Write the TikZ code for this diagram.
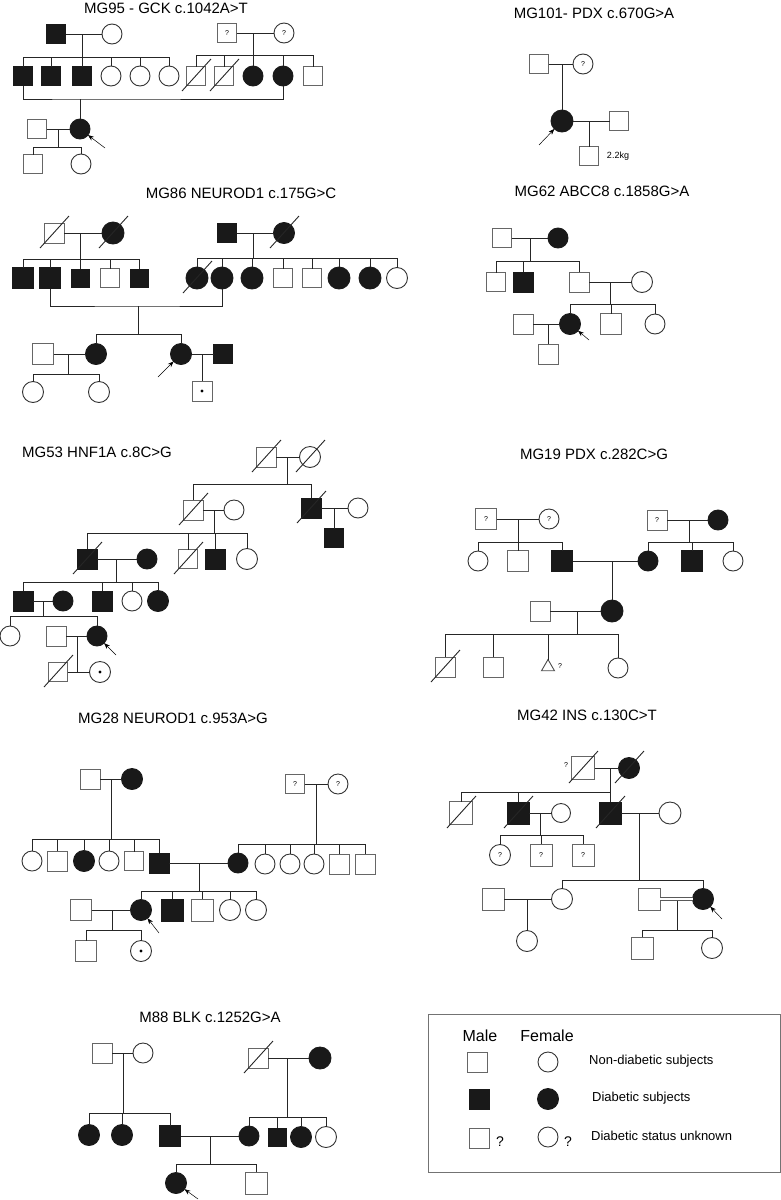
\documentclass[tikz,border=0pt]{standalone}
\usepackage{fontspec}
\setmainfont{Liberation Sans}
\usetikzlibrary{arrows.meta,shapes.geometric}
\newcommand\sibship[5]{%
  \draw[ln] (#1) -- (#1 |- #2);
  \draw[ln] (#3.north |- #2) -- (#4.north |- #2);
  \foreach \kid in {#5}{\draw[ln] (\kid.north) -- (\kid.north |- #2);}
}
\newcommand\deadmark[1]{\draw[ln] ([shift={(-14,15)}]#1.center) -- ([shift={(15,-17)}]#1.center);}
\newcommand\dotmark[1]{\fill[black] (#1.center) circle (1.7);}
\begin{document}
\begin{tikzpicture}[x=1pt,y=-1pt,
  ln/.style={line width=0.9pt, draw=black!85},
  sym/.style={line width=0.9pt, inner sep=0pt, outer sep=0pt, font=\fontsize{7}{7}\selectfont},
  ma/.style={sym, rectangle, draw=black!60, fill=white, minimum size=19pt},
  maD/.style={sym, rectangle, draw=black!90, fill=black!90, minimum size=19pt},
  fe/.style={sym, circle, draw=black!80, fill=white, minimum size=20pt},
  feD/.style={sym, circle, draw=black!90, fill=black!90, minimum size=20pt},
  tri/.style={sym, regular polygon, regular polygon sides=3, draw=black!70, fill=white, minimum size=15pt},
  ttl/.style={font=\fontsize{15}{17}\selectfont, inner sep=0pt},
  txt/.style={font=\fontsize{13}{15}\selectfont, inner sep=0pt, anchor=west},
  qm/.style={font=\fontsize{7}{8}\selectfont, inner sep=0pt},
  arr/.style={line width=0.5pt, draw=black, -{Stealth[length=6pt,width=4.5pt]}},
]
\useasboundingbox (0,0) rectangle (781,1200);

%================ MG95
\node[ttl] (t1) at (166,8) {MG95 - GCK c.1042A>T};
\node[maD] (a1) at (56,34) {};
\node[fe] (a2) at (112,34) {};
\node[ma] (a3) at (227,33) {?};
\node[fe] (a4) at (284,33) {?};
\node[maD] (a5) at (23,76) {};
\node[maD] (a6) at (51,76) {};
\node[maD] (a7) at (82,76) {};
\node[fe] (a8) at (111,76) {};
\node[fe] (a9) at (140,76) {};
\node[fe] (a10) at (169,76) {};
\node[ma] (a11) at (196,76) {};
\node[ma] (a12) at (224,76) {};
\node[feD] (a13) at (253,76) {};
\node[feD] (a14) at (283,76) {};
\node[ma] (a15) at (313,76) {};
\node[feD] (a16) at (80,129) {};
\node[ma] (a17) at (37,129) {};
\node[ma] (a18) at (33,164) {};
\node[fe] (a19) at (81,164) {};
\deadmark{a11}\deadmark{a12}
\draw[ln] (a1) -- (a2);
\coordinate (pa1) at (82,34); \coordinate (ba1) at (0,57);
\sibship{pa1}{ba1}{a5}{a10}{a5,a6,a7,a8,a9,a10}
\draw[ln] (a3) -- (a4);
\coordinate (pa2) at (253,33); \coordinate (ba2) at (0,55);
\sibship{pa2}{ba2}{a11}{a15}{a11,a12,a13,a14,a15}
\coordinate (ua) at (80,99);
\draw[ln] (a5.south) |- (ua) -| (a14.south);
\draw[ln] (ua) -- (a16);
\draw[ln] (a17) -- (a16);
\coordinate (pa3) at (58,129); \coordinate (ba3) at (0,147);
\sibship{pa3}{ba3}{a18}{a19}{a18,a19}
\coordinate (ra) at (105,148); \draw[arr] (ra) -- (a16);

%================ MG101
\node[ttl] (t2) at (594,13) {MG101- PDX c.670G>A};
\node[ma] (b1) at (539,64) {};
\node[fe] (b2) at (583,64) {?};
\node[feD, minimum size=22pt] (b3) at (562,121) {};
\node[ma] (b4) at (619,121) {};
\node[ma] (b5) at (589,156) {};
\node[font=\fontsize{9}{10}\selectfont, inner sep=0pt] (b6) at (618,156) {2.2kg};
\draw[ln] (b1) -- (b2);
\coordinate (pb1) at (562,64); \draw[ln] (pb1) -- (b3);
\draw[ln] (b3) -- (b4);
\coordinate (pb2) at (589,121); \draw[ln] (pb2) -- (b5);
\coordinate (rb) at (539,145); \draw[arr] (rb) -- (b3);

%================ MG86
\node[ttl] (t3) at (241,193) {MG86 NEUROD1 c.175G>C};
\node[ma, minimum size=20pt] (c1) at (54,233) {};
\node[feD, minimum size=22pt] (c2) at (113,233) {};
\node[maD, minimum size=21pt] (c3) at (23,278) {};
\node[maD, minimum size=21pt] (c4) at (50,278) {};
\node[maD, minimum size=18pt] (c5) at (80,278) {};
\node[ma] (c6) at (110,278) {};
\node[maD, minimum size=18pt] (c7) at (139,278) {};
\node[maD] (c8) at (227,233) {};
\node[feD, minimum size=21pt] (c9) at (284,233) {};
\node[feD, minimum size=22pt] (c10) at (197,278) {};
\node[feD, minimum size=22pt] (c11) at (222,278) {};
\node[feD, minimum size=22pt] (c12) at (252,278) {};
\node[ma] (c13) at (283,278) {};
\node[ma] (c14) at (312,278) {};
\node[feD, minimum size=22pt] (c15) at (339,278) {};
\node[feD, minimum size=22pt] (c16) at (370,278) {};
\node[fe, minimum size=21pt] (c17) at (397,278) {};
\node[feD, minimum size=21pt] (c18) at (96,354) {};
\node[feD, minimum size=21pt] (c19) at (181,354) {};
\node[ma, minimum size=21pt] (c20) at (43,354) {};
\node[fe, minimum size=21pt] (c21) at (33,392) {};
\node[fe, minimum size=21pt] (c22) at (99,392) {};
\node[maD] (c23) at (223,354) {};
\node[ma, minimum size=20pt] (c24) at (202,391) {};
\dotmark{c24}
\deadmark{c1}\deadmark{c2}\deadmark{c9}\deadmark{c10}
\draw[ln] (c1) -- (c2);
\coordinate (pc1) at (80,233); \coordinate (bc1) at (0,259);
\sibship{pc1}{bc1}{c3}{c7}{c3,c4,c5,c6,c7}
\draw[ln] (c8) -- (c9);
\coordinate (pc2) at (253,233); \coordinate (bc2) at (0,258);
\sibship{pc2}{bc2}{c10}{c17}{c10,c11,c12,c13,c14,c15,c16,c17}
\coordinate (uc) at (138,306);
\draw[ln] (c4.south) |- (uc) -| (c11.south);
\coordinate (bc3) at (0,334);
\sibship{uc}{bc3}{c18}{c19}{c18,c19}
\draw[ln] (c20) -- (c18);
\coordinate (pc3) at (68,354); \coordinate (bc4) at (0,374);
\sibship{pc3}{bc4}{c21}{c22}{c21,c22}
\draw[ln] (c19) -- (c23);
\coordinate (pc4) at (202,354); \draw[ln] (pc4) -- (c24);
\coordinate (rc) at (158,377); \draw[arr] (rc) -- (c19);

%================ MG62
\node[ttl] (t4) at (602,191) {MG62 ABCC8 c.1858G>A};
\node[ma] (d1) at (502,238) {};
\node[feD] (d2) at (558,238) {};
\node[ma] (d3) at (496,282) {};
\node[maD, minimum size=20pt] (d4) at (523,282) {};
\node[ma, minimum size=20pt] (d5) at (579,282) {};
\node[fe, minimum size=21pt] (d6) at (642,282) {};
\node[feD, minimum size=21pt] (d7) at (570,324) {};
\node[ma, minimum size=21pt] (d8) at (611,324) {};
\node[fe] (d9) at (655,324) {};
\node[ma, minimum size=20pt] (d10) at (523,324) {};
\node[ma, minimum size=20pt] (d11) at (548,354) {};
\draw[ln] (d1) -- (d2);
\coordinate (pd1) at (530,238); \coordinate (bd1) at (0,261);
\sibship{pd1}{bd1}{d3}{d5}{d3,d4,d5}
\draw[ln] (d5) -- (d6);
\coordinate (pd2) at (610,282); \coordinate (bd2) at (0,304);
\sibship{pd2}{bd2}{d7}{d9}{d7,d8,d9}
\draw[ln] (d10) -- (d7);
\coordinate (pd3) at (548,324); \draw[ln] (pd3) -- (d11);
\coordinate (rd) at (589,340); \draw[arr] (rd) -- (d7);

%================ MG53
\node[ttl, anchor=west] (t5) at (22,452) {MG53 HNF1A c.8C>G};
\node[ma, minimum size=20pt] (e1) at (266,457) {};
\node[fe, minimum size=21pt] (e2) at (310,457) {};
\node[ma, minimum size=20pt] (e3) at (193,510) {};
\node[maD, minimum size=20pt] (e4) at (311,508) {};
\node[fe] (e5) at (234,510) {};
\node[fe] (e6) at (358,508) {};
\node[maD] (e7) at (334,538) {};
\node[maD, minimum size=20pt] (e8) at (87,559) {};
\node[feD, minimum size=20pt] (e9) at (147,559) {};
\node[ma] (e10) at (188,559) {};
\node[maD, minimum size=20pt] (e11) at (215,559) {};
\node[fe, minimum size=21pt] (e12) at (247,559) {};
\node[maD, minimum size=20pt] (e13) at (23,601) {};
\node[feD, minimum size=20pt] (e14) at (63,601) {};
\node[maD, minimum size=20pt] (e15) at (102,601) {};
\node[fe] (e16) at (132,601) {};
\node[feD, minimum size=21pt] (e17) at (158,601) {};
\node[fe] (e18) at (10,636) {};
\node[feD] (e19) at (97,636) {};
\node[ma, minimum size=20pt] (e20) at (56,636) {};
\node[ma] (e21) at (58,672) {};
\node[fe, minimum size=21pt] (e22) at (100,672) {};
\dotmark{e22}
\deadmark{e1}\deadmark{e2}\deadmark{e3}\deadmark{e4}\deadmark{e8}\deadmark{e10}\deadmark{e21}
\draw[ln] (e1) -- (e2);
\coordinate (pe1) at (287,457); \coordinate (be1) at (0,484);
\sibship{pe1}{be1}{e3}{e4}{e3,e4}
\draw[ln] (e3) -- (e5);
\coordinate (pe2) at (214,510); \coordinate (be2) at (0,533);
\sibship{pe2}{be2}{e8}{e12}{e8,e10,e11,e12}
\draw[ln] (e4) -- (e6);
\coordinate (pe3) at (334,508); \draw[ln] (pe3) -- (e7);
\draw[ln] (e8) -- (e9);
\coordinate (pe4) at (116,559); \coordinate (be4) at (0,582);
\sibship{pe4}{be4}{e13}{e17}{e13,e15,e16,e17}
\draw[ln] (e13) -- (e14);
\coordinate (pe5) at (43,601); \coordinate (be5) at (0,616);
\sibship{pe5}{be5}{e18}{e19}{e18,e19}
\draw[ln] (e20) -- (e19);
\coordinate (pe6) at (77,636); \coordinate (qe) at (77,672);
\draw[ln] (pe6) -- (qe);
\draw[ln] (e21) -- (e22);
\coordinate (re) at (116,655); \draw[arr] (re) -- (e19);

%================ MG19
\node[ttl] (t6) at (594,454) {MG19 PDX c.282C>G};
\node[ma, minimum size=21pt] (f1) at (486,519) {?};
\node[fe] (f2) at (549,519) {?};
\node[fe] (f3) at (478,561) {};
\node[ma, minimum size=21pt] (f4) at (518,561) {};
\node[maD, minimum size=21pt] (f5) at (562,561) {};
\node[ma, minimum size=20pt] (f6) at (657,520) {?};
\node[feD] (f7) at (718,520) {};
\node[feD] (f8) at (648,561) {};
\node[maD, minimum size=21pt] (f9) at (692,561) {};
\node[fe] (f10) at (733,561) {};
\node[feD, minimum size=22pt] (f11) at (612,611) {};
\node[ma, minimum size=20pt] (f12) at (540,611) {};
\node[ma, minimum size=20pt] (f13) at (445,667) {};
\node[ma, minimum size=20pt] (f14) at (493,667) {};
\node[tri] (f15) at (548,667) {};
\node[qm] (f17) at (560,666) {?};
\node[fe] (f16) at (618,668) {};
\deadmark{f13}
\draw[ln] (f1) -- (f2);
\coordinate (pf1) at (518,519); \coordinate (bf1) at (0,542);
\sibship{pf1}{bf1}{f3}{f5}{f3,f4,f5}
\draw[ln] (f6) -- (f7);
\coordinate (pf2) at (689,520); \coordinate (bf2) at (0,542);
\sibship{pf2}{bf2}{f8}{f10}{f8,f9,f10}
\draw[ln] (f5) -- (f8);
\coordinate (pf3) at (612,561); \draw[ln] (pf3) -- (f11);
\draw[ln] (f12) -- (f11);
\coordinate (pf4) at (577,611); \coordinate (bf4) at (0,634);
\sibship{pf4}{bf4}{f13}{f16}{f13,f14,f15,f16}

%================ MG28
\node[ttl] (t7) at (173,718) {MG28 NEUROD1 c.953A>G};
\node[ma, minimum size=20pt] (g1) at (90,779) {};
\node[feD, minimum size=21pt] (g2) at (132,779) {};
\node[fe] (g3) at (32,861) {};
\node[ma, minimum size=20pt] (g4) at (57,861) {};
\node[feD, minimum size=21pt] (g5) at (84,861) {};
\node[fe] (g6) at (109,861) {};
\node[ma] (g7) at (134,861) {};
\node[maD, minimum size=20pt] (g8) at (159,863) {};
\node[ma] (g9) at (295,784) {?};
\node[fe] (g10) at (338,784) {?};
\node[feD, minimum size=20pt] (g11) at (238,863) {};
\node[fe] (g12) at (265,864) {};
\node[fe] (g13) at (290,864) {};
\node[fe] (g14) at (314,864) {};
\node[ma, minimum size=20pt] (g15) at (339,864) {};
\node[ma, minimum size=20pt] (g16) at (365,864) {};
\node[feD, minimum size=21pt] (g17) at (141,910) {};
\node[maD, minimum size=22pt] (g18) at (172,910) {};
\node[ma, minimum size=22pt] (g19) at (202,910) {};
\node[fe, minimum size=21pt] (g20) at (230,910) {};
\node[fe, minimum size=21pt] (g21) at (256,910) {};
\node[ma, minimum size=21pt] (g22) at (81,910) {};
\node[ma, minimum size=21pt] (g23) at (86,951) {};
\node[fe, minimum size=21pt] (g24) at (141,951) {};
\dotmark{g24}
\draw[ln] (g1) -- (g2);
\coordinate (pg1) at (111,779); \coordinate (bg1) at (0,839);
\sibship{pg1}{bg1}{g3}{g8}{g3,g4,g5,g6,g7,g8}
\draw[ln] (g9) -- (g10);
\coordinate (pg2) at (316,784); \coordinate (bg2) at (0,844);
\sibship{pg2}{bg2}{g11}{g16}{g11,g12,g13,g14,g15,g16}
\draw[ln] (g8) -- (g11);
\coordinate (pg3) at (199,863); \coordinate (bg3) at (0,891);
\sibship{pg3}{bg3}{g17}{g21}{g17,g18,g19,g20,g21}
\draw[ln] (g22) -- (g17);
\coordinate (pg4) at (112,910); \coordinate (bg4) at (0,930);
\sibship{pg4}{bg4}{g23}{g24}{g23,g24}
\coordinate (rg) at (159,933); \draw[arr] (rg) -- (g17);

%================ MG42
\node[ttl] (t8) at (587,715) {MG42 INS c.130C>T};
\node[ma, minimum size=23pt] (h1) at (583,768) {};
\node[qm] (h0) at (566,765) {?};
\node[feD, minimum size=21pt] (h2) at (629,768) {};
\node[ma, minimum size=23pt] (h3) at (461,813) {};
\node[maD, minimum size=22pt] (h4) at (518,813) {};
\node[maD, minimum size=22pt] (h5) at (610,813) {};
\node[fe, minimum size=19pt] (h6) at (561,813) {};
\node[fe, minimum size=22pt] (h10) at (670,813) {};
\node[fe, minimum size=21pt] (h7) at (500,855) {?};
\node[ma, minimum size=22pt] (h8) at (541,855) {?};
\node[ma, minimum size=22pt] (h9) at (583,855) {?};
\node[fe, minimum size=21pt] (h11) at (562,899) {};
\node[feD, minimum size=21pt] (h12) at (703,899) {};
\node[ma, minimum size=22pt] (h13) at (493,899) {};
\node[fe, minimum size=21pt] (h14) at (527,941) {};
\node[ma, minimum size=22pt] (h15) at (649,899) {};
\node[ma, minimum size=22pt] (h16) at (642,948) {};
\node[fe, minimum size=21pt] (h17) at (712,948) {};
\deadmark{h1}\deadmark{h2}\deadmark{h3}\deadmark{h4}\deadmark{h5}
\draw[ln] (h1) -- (h2);
\coordinate (ph1) at (610,768); \coordinate (bh1) at (0,792);
\sibship{ph1}{bh1}{h3}{h5}{h3,h4,h5}
\draw[ln] (h4) -- (h6);
\coordinate (ph2) at (540,813); \coordinate (bh2) at (0,835);
\sibship{ph2}{bh2}{h7}{h9}{h7,h8,h9}
\draw[ln] (h5) -- (h10);
\coordinate (ph3) at (639,813); \coordinate (bh3) at (0,880);
\sibship{ph3}{bh3}{h11}{h12}{h11,h12}
\draw[ln] (h13) -- (h11);
\coordinate (ph4) at (527,899); \draw[ln] (ph4) -- (h14);
\draw[line width=0.8pt, draw=black!65, double=white, double distance=1.6pt] (h15.east) -- (h12.west);
\coordinate (ph5) at (677,901); \coordinate (bh5) at (0,930);
\sibship{ph5}{bh5}{h16}{h17}{h16,h17}
\coordinate (rh) at (722,919); \draw[arr] (rh) -- (h12);

%================ M88
\node[ttl] (t9) at (210,1017) {M88 BLK c.1252G>A};
\node[ma, minimum size=20pt] (i1) at (102,1053) {};
\node[fe] (i2) at (143,1053) {};
\node[feD, minimum size=21pt] (i3) at (89,1135) {};
\node[feD, minimum size=21pt] (i4) at (122,1135) {};
\node[maD, minimum size=21pt] (i5) at (170,1136) {};
\node[ma, minimum size=20pt] (i6) at (258,1058) {};
\node[feD, minimum size=22pt] (i7) at (320,1058) {};
\node[feD, minimum size=20pt] (i8) at (249,1136) {};
\node[maD, minimum size=18pt] (i9) at (277,1137) {};
\node[feD, minimum size=21pt] (i10) at (301,1137) {};
\node[fe, minimum size=21pt] (i11) at (326,1137) {};
\node[feD, minimum size=21pt] (i12) at (176,1183) {};
\node[ma, minimum size=22pt] (i13) at (256,1183) {};
\deadmark{i6}
\draw[ln] (i1) -- (i2);
\coordinate (pi1) at (123,1053); \coordinate (bi1) at (0,1113);
\sibship{pi1}{bi1}{i3}{i5}{i3,i4,i5}
\draw[ln] (i6) -- (i7);
\coordinate (pi2) at (287,1058); \coordinate (bi2) at (0,1117);
\sibship{pi2}{bi2}{i8}{i11}{i8,i9,i10,i11}
\draw[ln] (i5) -- (i8);
\coordinate (pi3) at (210,1136); \coordinate (bi3) at (0,1164);
\sibship{pi3}{bi3}{i12}{i13}{i12,i13}
\coordinate (ri) at (198,1199); \draw[arr] (ri) -- (i12);

%================ Legend
\draw[line width=0.8pt, draw=black!55] (428,1014) rectangle (780,1172);
\node[font=\fontsize{16}{18}\selectfont, inner sep=0pt] (lm) at (480,1036) {Male};
\node[font=\fontsize{16}{18}\selectfont, inner sep=0pt] (lf) at (547,1036) {Female};
\node[ma, minimum size=20pt] (l1) at (477,1062) {};
\node[fe] (l2) at (548,1062) {};
\node[txt] (l7) at (589,1061) {Non-diabetic subjects};
\node[maD, minimum size=20pt] (l3) at (479,1099) {};
\node[feD, minimum size=21pt] (l4) at (548,1099) {};
\node[txt] (l8) at (592,1098) {Diabetic subjects};
\node[ma, minimum size=20pt] (l5) at (479,1138) {};
\node[font=\fontsize{14}{16}\selectfont, inner sep=0pt] (l9) at (500,1142) {?};
\node[fe] (l6) at (548,1137) {};
\node[font=\fontsize{14}{16}\selectfont, inner sep=0pt] (l10) at (568,1142) {?};
\node[txt] (l11) at (591,1136) {Diabetic status unknown};
\end{tikzpicture}
\end{document}
